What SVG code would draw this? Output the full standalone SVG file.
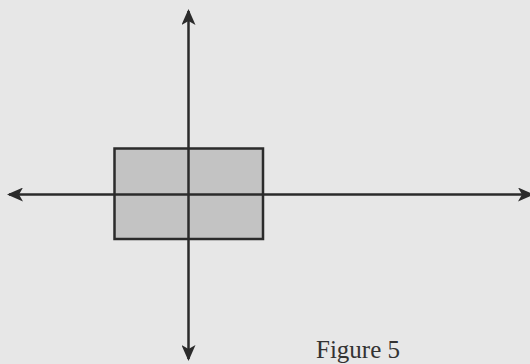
<svg xmlns="http://www.w3.org/2000/svg" width="530" height="364" viewBox="0 0 530 364">
<style>
.ax{stroke:#2b2b2b;stroke-width:2.5;fill:none}
.box{fill:#c3c3c3;stroke:#2b2b2b;stroke-width:2.5}
.lbl{font-family:"Liberation Serif",serif;font-size:25px;fill:#333}
</style>
<defs>
<marker id="ah" viewBox="0 0 16 14" refX="14" refY="7" markerWidth="16" markerHeight="14" markerUnits="userSpaceOnUse" orient="auto">
<path d="M0,0 L16,7 L0,14 L4,7 Z" fill="#2b2b2b"/>
</marker>
</defs>
<rect width="530" height="364" fill="#e7e7e7"/>
<g id="rect-node"><rect class="box" x="114.5" y="148.5" width="148.5" height="90.5"/></g>
<g id="connectors">
<line class="ax" x1="188.5" y1="194" x2="188.5" y2="11" marker-end="url(#ah)"/>
<line class="ax" x1="188.5" y1="194" x2="188.5" y2="359" marker-end="url(#ah)"/>
<line class="ax" x1="188.5" y1="194.5" x2="9" y2="194.5" marker-end="url(#ah)"/>
<line class="ax" x1="188.5" y1="194.5" x2="532" y2="194.5" marker-end="url(#ah)"/>
</g>
<g id="caption"><text class="lbl" x="316" y="358">Figure 5</text></g>
</svg>
